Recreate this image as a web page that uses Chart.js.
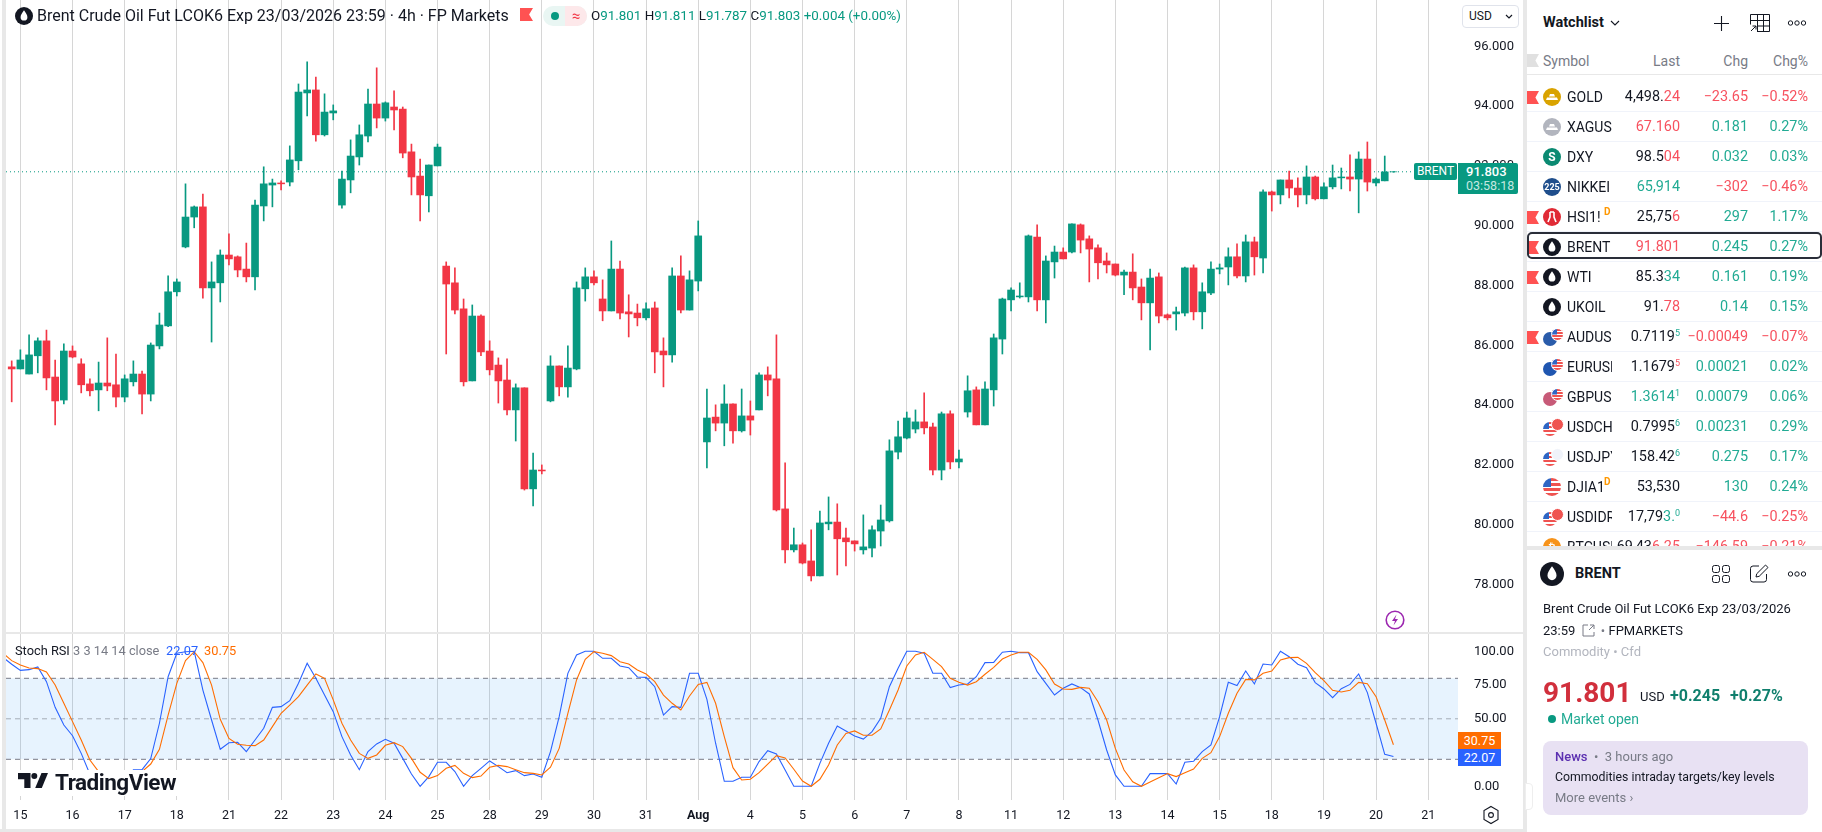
<!DOCTYPE html>
<html><head><meta charset="utf-8"><title>BRENT</title>
<script src="https://cdn.jsdelivr.net/npm/chart.js@4"></script>
<style>
html,body{margin:0;padding:0;background:#fff;width:1822px;height:832px;overflow:hidden;font-family:Roboto,sans-serif;color:#131722}
.a{position:absolute;white-space:nowrap}
#wrap{position:absolute;left:0;top:0;width:1523px;height:829px}
sup{font-size:9px;line-height:0;vertical-align:5px}
</style></head><body>
<div id="wrap"><canvas id="c"></canvas></div>
<div id="ui"></div>
<script>
// ---- chart data ----
const dayLabels=["15","16","17","18","21","22","23","24","25","28","29","30","31","Aug","4","5","6","7","8","11","12","13","14","15","18","19","20","21"];
const priceTicks=[78,80,82,84,86,88,90,92,94,96];
const stochTicks=[0,50,75,100];
const bandLevels=[20,50,80];
const lastPrice=91.803;
const opens=[85.28,85.21,85.04,85.65,86.15,84.94,84.17,85.81,85.38,84.71,84.51,84.74,84.68,84.27,84.78,85.04,84.37,85.98,86.65,87.79,89.29,90.29,90.63,87.92,88.09,89.02,88.96,88.55,88.29,90.66,91.36,91.43,91.46,92.17,94.44,94.54,93.04,93.77,90.69,91.53,92.30,93.00,94.07,93.60,93.97,93.90,92.47,91.66,91.00,92.00,88.65,88.09,87.22,84.81,86.98,85.81,85.34,84.84,83.84,84.58,81.20,81.83,84.14,85.31,84.61,85.21,87.89,88.29,87.55,87.15,88.55,87.12,87.08,86.92,87.25,85.81,85.68,88.32,87.18,88.15,82.77,83.60,83.40,84.04,83.14,83.64,83.84,85.01,84.88,80.53,79.16,79.33,78.79,78.29,80.03,80.09,79.56,79.46,79.16,79.22,79.79,80.13,82.43,82.90,83.20,83.44,83.27,81.83,83.71,82.10,83.77,84.51,83.34,84.51,86.21,87.52,87.62,87.62,89.62,87.52,88.79,89.12,89.12,90.03,89.56,89.26,88.82,88.72,88.35,88.45,87.95,87.42,88.29,87.02,87.05,87.08,88.59,87.12,87.75,88.55,88.62,88.96,88.32,89.46,88.92,91.13,91.03,91.53,91.26,91.03,91.63,90.90,91.30,91.60,91.63,91.56,92.23,91.43,91.50,91.801];
const highs=[85.48,85.85,86.35,86.25,86.51,85.51,86.05,85.98,85.55,84.88,85.44,86.25,85.71,85.01,85.48,85.14,86.08,87.08,88.32,88.22,91.40,90.66,91.06,88.79,89.19,89.73,88.99,89.42,90.86,91.97,91.56,91.50,92.67,94.74,95.48,94.97,94.41,94.04,91.83,92.87,93.37,94.57,95.28,94.14,94.51,93.97,92.73,92.23,92.03,92.73,88.79,88.59,87.55,87.35,87.02,86.15,85.58,85.55,84.71,84.58,82.40,82.00,85.65,85.31,85.98,88.12,88.59,88.49,88.19,89.49,88.82,87.69,87.38,87.42,87.45,86.25,88.59,88.99,88.49,90.16,84.54,84.01,84.68,84.04,84.54,84.14,85.08,85.28,86.35,82.07,79.89,79.39,79.83,80.46,80.93,80.70,79.89,79.46,80.33,79.96,80.66,82.84,83.47,83.77,83.84,84.41,83.40,83.77,83.81,82.50,84.98,84.61,84.78,86.38,87.58,87.92,88.09,89.69,90.03,88.99,89.32,89.26,90.06,90.06,89.66,89.36,89.09,88.72,88.52,89.06,88.22,88.55,88.42,87.05,87.28,88.62,88.69,88.09,88.79,88.72,89.26,89.39,89.69,89.62,91.20,91.16,91.53,91.83,91.60,92.00,91.66,91.43,92.03,91.93,92.37,92.47,92.80,91.60,92.33,91.811];
const lows=[84.11,85.21,85.04,85.08,84.51,83.34,84.04,85.58,84.41,84.31,83.81,84.48,83.94,84.11,84.64,83.71,84.14,85.88,86.62,87.65,89.26,89.93,87.58,86.11,87.45,88.69,88.29,88.12,87.85,90.16,90.63,91.20,91.33,91.87,93.67,92.83,93.00,93.54,90.59,91.10,92.03,92.80,93.27,93.50,93.20,92.27,91.03,90.16,90.46,92.00,85.71,87.05,84.64,84.81,85.65,85.01,84.07,83.67,82.80,81.16,80.63,81.70,84.11,84.31,84.27,85.18,87.48,88.02,86.82,87.15,86.88,86.28,86.65,86.85,85.08,84.61,85.44,87.08,87.18,87.82,81.90,83.14,82.64,82.73,83.10,83.00,83.84,84.31,80.46,78.72,79.09,78.69,78.12,78.29,79.83,78.32,78.62,79.12,79.02,78.92,79.29,80.09,82.20,82.87,83.07,83.04,81.67,81.50,81.87,81.90,83.60,83.34,83.34,83.97,85.71,87.15,87.58,87.45,87.15,86.75,88.25,88.89,89.09,89.09,88.12,88.22,88.42,88.32,87.69,87.52,86.85,85.85,86.75,86.85,86.51,86.98,86.85,86.55,87.69,88.39,88.02,88.25,88.12,88.35,88.42,90.49,90.73,90.93,90.63,90.73,90.86,90.90,91.23,91.23,91.16,90.43,91.16,91.33,91.50,91.787];
const closes=[85.21,85.51,85.68,86.15,84.91,84.14,85.81,85.61,84.68,84.48,84.74,84.64,84.27,84.88,85.04,84.37,86.01,86.68,87.79,88.12,90.29,90.63,87.92,88.12,89.02,88.89,88.52,88.29,90.69,91.40,91.43,91.40,92.20,94.47,94.54,93.04,93.80,93.84,91.56,92.33,93.04,94.07,93.60,94.11,93.87,92.43,91.63,91.03,92.03,92.63,88.05,87.18,84.78,86.98,85.78,85.18,84.81,83.84,84.58,81.20,81.83,81.80,85.31,84.61,85.24,87.92,88.29,88.09,87.15,88.55,87.08,87.05,86.92,87.22,85.78,85.68,88.32,87.18,88.19,89.66,83.57,83.40,84.04,83.14,83.64,83.50,85.01,84.84,80.50,79.16,79.33,78.72,78.29,80.06,80.09,79.53,79.43,79.36,79.26,79.83,80.16,82.47,82.94,83.57,83.44,83.24,81.83,83.71,82.10,82.20,84.48,83.34,84.54,86.25,87.55,87.85,87.65,89.66,87.52,88.82,89.12,88.89,90.06,89.52,89.22,88.76,88.69,88.35,88.45,87.92,87.42,88.25,86.98,86.92,87.12,88.59,87.12,87.79,88.55,88.59,88.96,88.32,89.46,88.96,91.13,91.03,91.53,91.26,91.03,91.63,90.90,91.30,91.60,91.63,91.56,92.23,91.46,91.56,91.80,91.803];
// first entry of both Stoch RSI series belongs to the bar just left of the first visible candle
const stochK=[95.5,90.4,85.9,86.4,88.4,77.5,58.5,45.4,37.5,24.4,8.9,0,0,0,0,12.3,12.3,20.5,46.7,81.2,98.5,99.7,100,71.3,49.1,27.4,32.3,32.6,25.7,34.3,43,58.5,59,63.4,76.3,91.1,80,67.6,55.3,36.8,23.2,12.3,25.7,31.4,34.8,31.9,20.7,9.1,0,7.2,17.8,17.8,10.9,0,7.9,13.3,18.8,14.6,10.1,11.6,7.9,9.1,6.7,25.7,51.6,83.7,97.3,100,100,94.8,94.8,89.1,87.9,81,80.7,73.8,52.8,59,58.5,83.7,83.7,64.4,31.9,3.7,3.7,6.7,6.7,18.3,26.4,24,12.1,0,0,0,17,31.9,44.7,41,37.3,35,40.5,50.4,73.8,87.4,100,100,98.5,83.7,83.7,73.1,75,75.8,81.2,91.6,91.8,99.3,100,99,99,84.9,76.3,67.6,72.6,75.8,73.1,68.4,49.1,26.9,8.4,0,0,0,9.4,9.4,9.4,1.7,17.8,18.5,25.7,30.6,51.6,77,74.6,85.4,75.8,90.6,89.9,100,96,90.4,87.9,76.8,72.1,65.7,72.3,75.5,83.2,69.4,46.7,23.7,22.07];
const stochD=[98.5,93.1,89.9,87.6,87.2,84.7,75,61.5,47.9,34.3,19.5,10.9,4.7,0,0,7.2,10.9,16.5,27.4,52.8,76.3,93.1,99.7,91.6,75,49.6,35.5,31.1,30.4,30.1,34.3,44.2,54.1,60.2,66.4,75,83.2,80,64,46.7,34.3,24.4,20.7,23.2,30.4,32.3,29.4,20.7,10.4,5.7,7.9,13.3,15.5,9.6,6.4,7.6,14.1,15.5,14.6,12.3,10.1,9.6,8.4,14.1,28.1,54.1,78.8,94,99.7,98.5,96.8,92.3,90.6,86.2,83.2,77.5,67.6,61.5,56.5,66.9,75.5,77,61.5,36.8,13.8,4.7,5.2,10.1,16.5,22.7,21,12.6,3.9,0,5.2,15.8,30.6,39.2,41,37.8,37.8,42.5,56.5,71.3,89.1,97.3,99.3,94,88.6,80,77,75,77.5,83,88.1,94.3,97.3,99.3,99.3,94,86.2,75.8,72.1,71.8,73.3,72.6,62.7,49.1,28.1,12.1,3.4,0,3.2,6.4,9.4,7.2,10.1,12.8,20.7,24.9,36.8,54.1,68.9,79.2,78.8,83.7,85.4,93.6,95.3,95.5,91.1,84.2,78.3,71.1,69.9,71.1,77,76,66.4,49.1,30.75];
// ---- watchlist text ----
const watchRows=[
 ["GOLD","#d9a300","bar",1,[["4,498.","k"],["24","r"]],"−23.65","−0.52%",""],
 ["XAGUSD","#b2b5be","bar",0,[["67.160","r"]],"0.181","0.27%",""],
 ["DXY","#0b8a72","S",0,[["98.5","k"],["04","r"]],"0.032","0.03%",""],
 ["NIKKEI","#1f4e8c","225",0,[["65,914","g"]],"−302","−0.46%",""],
 ["HSI1!","#e02b36","hsi",1,[["25,75","k"],["6","r"]],"297","1.17%","D"],
 ["BRENT","#131722","drop",1,[["91.801","r"]],"0.245","0.27%",""],
 ["WTI","#131722","drop",1,[["85.3","k"],["34","g"]],"0.161","0.19%",""],
 ["UKOIL","#131722","drop",0,[["91.","k"],["78","r"]],"0.14","0.15%",""],
 ["AUDUSD","#2a5caa","fx",1,[["0.7119","k"],["5","gs"]],"−0.00049","−0.07%",""],
 ["EURUSD","#1f56b0","fx",0,[["1.1679","k"],["5","rs"]],"0.00021","0.02%",""],
 ["GBPUSD","#c75a78","fx",0,[["1.3614","g"],["1","gs"]],"0.00079","0.06%",""],
 ["USDCHF","#ef5350","usd",0,[["0.7995","k"],["6","gs"]],"0.00231","0.29%",""],
 ["USDJPY","#ef5350","usd",0,[["158.42","k"],["6","gs"]],"0.275","0.17%",""],
 ["DJIA1!","#3d74c9","us",0,[["53,530","k"]],"130","0.24%","D"],
 ["USDIDR","#ef5350","usd",0,[["17,79","k"],["3.","g"],["0","gs"]],"−44.6","−0.25%",""],
 ["BTCUSD","#f7931a","₿",0,[["69,43","k"],["6.25","r"]],"−146.59","−0.21%",""]
];
const UP='#089981',DN='#F23645';
const xMin=-0.656,xMax=166.43;
const idx=closes.map((_,i)=>i);
const upDown=closes.map((c,i)=>c>=opens[i]?UP:DN);
Chart.defaults.font.family='Roboto, sans-serif';
const flat=v=>[{x:xMin,y:v},{x:xMax,y:v}];
const noPad=s=>{s.paddingLeft=s.paddingRight=s.paddingTop=s.paddingBottom=0;};
new Chart(document.getElementById('c'),{
 type:'bar',
 data:{datasets:[
  {type:'bar',label:'Body',yAxisID:'y',xAxisID:'x',order:1,grouped:false,barThickness:7,backgroundColor:upDown,borderWidth:0,borderSkipped:false,data:idx.map(i=>({x:i,y:[opens[i],closes[i]]}))},
  {type:'bar',label:'Wick',yAxisID:'y',xAxisID:'x',order:2,grouped:false,barThickness:1,backgroundColor:upDown,borderWidth:0,borderSkipped:false,data:idx.map(i=>({x:i,y:[lows[i],highs[i]]}))},
  {type:'line',label:'Last',yAxisID:'y',xAxisID:'x',order:3,borderColor:UP,borderWidth:1,borderDash:[1,3],pointRadius:0,data:flat(lastPrice)},
  {type:'line',label:'%D',yAxisID:'s',xAxisID:'x',order:1,borderColor:'#FF6D00',borderWidth:1.1,pointRadius:0,tension:0,data:stochD.map((v,i)=>({x:i-1,y:v}))},
  {type:'line',label:'%K',yAxisID:'s',xAxisID:'x',order:2,borderColor:'#2962FF',borderWidth:1.1,pointRadius:0,tension:0,data:stochK.map((v,i)=>({x:i-1,y:v}))},
  {type:'line',label:'Upper',yAxisID:'s',xAxisID:'x',order:5,borderColor:'#787B86',borderWidth:1,borderDash:[5,4],pointRadius:0,data:flat(bandLevels[2])},
  {type:'line',label:'Middle',yAxisID:'s',xAxisID:'x',order:5,borderColor:'rgba(120,123,134,.6)',borderWidth:1,borderDash:[5,4],pointRadius:0,data:flat(bandLevels[1])},
  {type:'line',label:'Lower',yAxisID:'s',xAxisID:'x',order:5,borderColor:'#787B86',borderWidth:1,borderDash:[5,4],pointRadius:0,data:flat(bandLevels[0])},
  {type:'line',label:'Band',yAxisID:'s',xAxisID:'x',order:6,borderWidth:0,pointRadius:0,fill:{value:bandLevels[0]},backgroundColor:'rgba(33,150,243,.11)',data:flat(bandLevels[2])}
 ]},
 options:{
  responsive:true,maintainAspectRatio:false,animation:false,events:[],
  layout:{padding:{left:6,right:0,top:0,bottom:0}},
  plugins:{legend:{display:false},tooltip:{enabled:false}},
  scales:{
   x:{type:'linear',min:xMin,max:xMax,position:'bottom',offset:false,
      border:{display:false},
      grid:{color:'#d6d6d6',lineWidth:1,drawTicks:false,offset:false},
      afterBuildTicks:s=>{s.ticks=dayLabels.map((_,k)=>({value:1+6*k}));},
      afterFit:s=>{s.height=29;noPad(s);},
      ticks:{autoSkip:false,maxRotation:0,padding:8,color:'#131722',
        font:c=>({size:12.5,weight:c.tick&&dayLabels[(c.tick.value-1)/6]==='Aug'?'700':'400'}),
        callback:v=>dayLabels[(v-1)/6]}},
   y:{type:'linear',position:'right',stack:'panes',stackWeight:633,min:76.38,max:97.548,
      border:{display:false},grid:{display:false},
      afterBuildTicks:s=>{s.ticks=priceTicks.map(v=>({value:v}));},
      afterFit:s=>{s.width=65;noPad(s);},
      ticks:{padding:8,color:'#131722',font:{size:13},callback:v=>v.toFixed(3)}},
   s:{type:'linear',position:'right',stack:'panes',stackWeight:167,min:-10.15,max:113.56,
      border:{display:false},grid:{display:false},
      afterBuildTicks:s=>{s.ticks=stochTicks.map(v=>({value:v}));},
      afterFit:s=>{s.width=65;noPad(s);},
      ticks:{padding:8,color:'#131722',font:{size:13},callback:v=>v.toFixed(2)}}
  }
 }
});
// ---- page furniture ----
const ui=document.getElementById('ui');
const add=(style,html)=>{const d=document.createElement('div');d.className='a';d.style.cssText=style;d.innerHTML=html||'';ui.appendChild(d);return d;};
const drop=(s)=>`<svg width="${s}" height="${s}" viewBox="0 0 18 18" style="display:block"><circle cx="9" cy="9" r="9" fill="#131722"/><path d="M9 3.200C7 6 5.600 7.900 5.600 10.200a3.400 3.400 0 0 0 6.800 0C12.400 7.900 11 6 9 3.200z" fill="#fff"/></svg>`;
const dots=`<svg width="20" height="6" viewBox="0 0 20 6" style="display:block"><circle cx="3.500" cy="3" r="2.200" fill="none" stroke="#131722"/><circle cx="10" cy="3" r="2.200" fill="none" stroke="#131722"/><circle cx="16.500" cy="3" r="2.200" fill="none" stroke="#131722"/></svg>`;
const notch='clip-path:polygon(0 0,100% 0,70% 50%,100% 100%,0 100%)';
const usFlag=(s)=>`background:linear-gradient(to right,#2f66c4 0 45%,transparent 45%) 0 0/100% 50% no-repeat,repeating-linear-gradient(to bottom,#ef5350 0 ${s/7}px,#fff ${s/7}px ${2*s/7}px)`;
// frame
add('left:2px;top:0;width:4px;height:832px;background:#e8e8e8');
add('left:0;top:829px;width:1523px;height:3px;background:#e8e8e8');
add('left:1523px;top:0;width:4px;height:832px;background:#e8e8e8');
add('left:6px;top:632px;width:1517px;height:2px;background:#e8e8e8');
add('left:1527px;top:546px;width:295px;height:4px;background:#e8e8e8');
// header
add('left:15px;top:7px',drop(18));
add('left:37px;top:6px;font-size:16px;line-height:20px','Brent Crude Oil Fut LCOK6 Exp 23/03/2026 23:59 · 4h · FP Markets');
add('left:520px;top:8px;width:13px;height:13px;background:#ff5252;'+notch);
add('left:543px;top:6px;width:44px;height:20px;border-radius:10px;background:#e9f6f3');
add('left:565px;top:6px;width:22px;height:20px;border-radius:0 10px 10px 0;background:#fde8ea;color:#f23645;font-size:15px;line-height:20px;text-align:center','≈');
add('left:551px;top:12px;width:8px;height:8px;border-radius:50%;background:#089981');
const g=s=>`<span style="color:#089981">${s}</span>`;
add('left:591px;top:6px;font-size:13.4px;line-height:20px',`O${g('91.801')} H${g('91.811')} L${g('91.787')} C${g('91.803')} ${g('+0.004 (+0.00%)')}`);
// USD
add('left:1462px;top:5px;width:57px;height:23px;border:1px solid #e0e3eb;border-radius:4px;box-sizing:border-box;background:#fff;font-size:12px;line-height:21px;padding-left:6px','USD<svg style="position:absolute;right:5px;top:8px" width="8" height="5" viewBox="0 0 8 5"><path d="M1 1l3 3 3-3" fill="none" stroke="#131722" stroke-width="1.2"/></svg>');
// price tags
add('left:1414px;top:163px;width:43px;height:17px;background:#089981;border-radius:2px;color:#fff;font-size:12px;line-height:17px;text-align:center','BRENT');
add('left:1458px;top:163px;width:60px;height:31px;background:#089981;border-radius:0 2px 2px 0');
add('left:1466px;top:164px;color:#fff;font-size:13px;line-height:16px;font-weight:500','91.803');
add('left:1466px;top:178px;color:#c5e8e0;font-size:12.5px;line-height:16px','03:58:18');
// stoch legend + tags
add('left:15px;top:643px;font-size:12.8px;line-height:16px','Stoch RSI <span style="color:#787b86">3 3 14 14 close</span>');
add('left:166px;top:643px;font-size:12.8px;line-height:16px;color:#2962FF','22.07');
add('left:204px;top:643px;font-size:12.8px;line-height:16px;color:#FF6D00','30.75');
add('left:1458px;top:732px;width:43px;height:17px;background:#FF6D00;color:#fff;font-size:12.5px;line-height:17px;text-align:center','30.75');
add('left:1458px;top:749px;width:43px;height:17px;background:#2962FF;color:#fff;font-size:12.5px;line-height:17px;text-align:center','22.07');
// logo
add('left:17px;top:770px;width:161px;height:26px;background:#fff');
add('left:18px;top:773px','<svg width="30" height="15" viewBox="0 0 30 15" style="display:block"><path d="M0 0h12.500v15H6.300V6.200H0z" fill="#131722"/><circle cx="16.300" cy="3" r="3" fill="#131722"/><path d="M23.500 0H30l-6.200 15h-6.600z" fill="#131722"/></svg>');
add('left:55px;top:769px;font-size:22.5px;line-height:26px;font-weight:700;letter-spacing:-.5px','TradingView');
// lightning
add('left:1385px;top:610px','<svg width="20" height="20" viewBox="0 0 20 20" style="display:block"><circle cx="10" cy="10" r="8.800" fill="none" stroke="#9c27b0" stroke-width="1.600"/><path d="M11.500 4.500L7 11h3l-1.500 4.500L13 9h-3z" fill="#9c27b0"/></svg>');
// settings hexagon
add('left:1482px;top:805px','<svg width="18" height="20" viewBox="0 0 18 20" style="display:block"><path d="M9 1.500l7 4v9l-7 4-7-4v-9z" fill="none" stroke="#131722" stroke-width="1.100"/><circle cx="9" cy="10" r="2.400" fill="none" stroke="#131722" stroke-width="1.100"/></svg>');
// watchlist head
add('left:1543px;top:13px;font-size:14.5px;line-height:20px;font-weight:700','Watchlist');
add('left:1610px;top:20px','<svg width="10" height="6" viewBox="0 0 10 6" style="display:block"><path d="M1 1l4 4 4-4" fill="none" stroke="#131722" stroke-width="1.100"/></svg>');
add('left:1714px;top:16px','<svg width="15" height="15" viewBox="0 0 15 15" style="display:block"><path d="M7.500 0v15M0 7.500h15" stroke="#131722" stroke-width="1.100"/></svg>');
add('left:1750px;top:14px','<svg width="20" height="18" viewBox="0 0 20 18" style="display:block"><path d="M.5.5h19v17H7M7.500.5v17M13.500.5v17M.5 6.500h19M7.500 12h12M.5.5v10" fill="none" stroke="#131722"/><path d="M1 17l5-5M2.500 12H6v3.500" fill="none" stroke="#131722"/></svg>');
add('left:1787px;top:20px;width:20px;height:6px',dots);
add('left:1527px;top:54px;width:12px;height:13px;background:#e0e0e0;'+notch);
const hd='top:52px;font-size:14px;line-height:18px;color:#787b86;';
add(hd+'left:1543px','Symbol');
add(hd+'right:142px','Last');
add(hd+'right:74px','Chg');
add(hd+'right:14px','Chg%');
add('left:1527px;top:74px;width:295px;height:1px;background:#e8e8e8');
// rows
const cols={k:'#131722',g:'#22ab94',r:'#f7525f'};
const host=add('left:1527px;top:0;width:295px;height:546px;overflow:hidden');
watchRows.forEach((r,i)=>{
  const cy=97+30*i;
  const put=(s,h)=>{const d=document.createElement('div');d.className='a';d.style.cssText=s;d.innerHTML=h||'';host.appendChild(d);};
  const circle=`left:16px;top:${cy-9}px;width:18px;height:18px;border-radius:50%;`;
  if(r[3])put(`left:0;top:${cy-6}px;width:12px;height:13px;background:#ff5252;`+notch);
  if(r[2]==='drop')put(`left:16px;top:${cy-9}px`,drop(18));
  else if(r[2]==='bar')put(circle+`background:${r[1]}`,'<svg width="18" height="18" viewBox="0 0 18 18" style="display:block"><path d="M7 6h4l1 2.500H6zM4 9.500h10l1 2.500H3z" fill="#fff"/></svg>');
  else if(r[2]==='hsi')put(circle+`background:${r[1]}`,'<svg width="18" height="18" viewBox="0 0 18 18" style="display:block"><path d="M7 4v5l-2 5M11 4v5l2 5M7 4h4" fill="none" stroke="#fff" stroke-width="1.600"/></svg>');
  else if(r[2]==='us')put(circle+usFlag(18));
  else if(r[2]==='fx'||r[2]==='usd'){
    if(r[2]==='fx'){put(`left:16px;top:${cy-5}px;width:14px;height:14px;border-radius:50%;background:${r[1]}`);put(`left:24px;top:${cy-9}px;width:11px;height:11px;border-radius:50%;border:1px solid #fff;box-sizing:content-box;`+usFlag(11));}
    else{put(`left:16px;top:${cy-5}px;width:14px;height:14px;border-radius:50%;`+usFlag(14));put(`left:24px;top:${cy-9}px;width:11px;height:11px;border-radius:50%;border:1px solid #fff;background:${r[0]==='USDJPY'?'#f0f3fa':r[1]}`);}
  }
  else put(circle+`background:${r[1]};color:#fff;font-size:${r[2]==='S'?12:9}px;font-weight:700;text-align:center;line-height:18px`,r[2]);
  put(`left:40px;top:${cy-10}px;width:${r[7]?36:45}px;overflow:hidden;font-size:14px;line-height:20px`,r[0]);
  if(r[7])put(`left:77px;top:${cy-10}px;font-size:10px;font-weight:700;line-height:10px;color:#ff9800`,r[7]);
  const lastHtml=r[4].map(p=>p[1].endsWith('s')?`<sup style="color:${cols[p[1][0]]}">${p[0]}</sup>`:`<span style="color:${cols[p[1]]}">${p[0]}</span>`).join('');
  put(`right:142px;top:${cy-10}px;font-size:14.4px;line-height:20px`,lastHtml);
  const col=r[5][0]==='−'?cols.r:cols.g;
  put(`right:74px;top:${cy-10}px;font-size:14.4px;line-height:20px;color:${col}`,r[5]);
  put(`right:14px;top:${cy-10}px;font-size:14.4px;line-height:20px;color:${col}`,r[6]);
  if(i<15)put(`left:0;top:${cy+14}px;width:295px;height:1px;background:#f0f3fa`);
  if(r[0]==='BRENT')put(`left:0;top:${cy-15}px;width:295px;height:27px;border:2px solid #2a2e39;border-radius:5px;box-sizing:border-box`);
});
// detail panel
add('left:1540px;top:562px',drop(24));
add('left:1575px;top:564px;font-size:14.5px;line-height:20px;font-weight:700','BRENT');
add('left:1712px;top:565px','<svg width="18" height="18" viewBox="0 0 18 18" style="display:block"><g fill="none" stroke="#131722"><rect x=".5" y=".5" width="7" height="7" rx="2"/><rect x="10.500" y=".5" width="7" height="7" rx="2"/><rect x=".5" y="10.500" width="7" height="7" rx="2"/><rect x="10.500" y="10.500" width="7" height="7" rx="2"/></g></svg>');
add('left:1750px;top:564px','<svg width="20" height="19" viewBox="0 0 20 19" style="display:block"><g fill="none" stroke="#131722"><path d="M9 2H3a2.500 2.500 0 0 0-2.500 2.500v11A2.500 2.500 0 0 0 3 18h11a2.500 2.500 0 0 0 2.500-2.500V10"/><path d="M6 13l.7-3.200L15.500 1l2.500 2.500-8.800 8.800z"/></g></svg>');
add('left:1787px;top:571px;width:20px;height:6px',dots);
add('left:1543px;top:600px;font-size:13px;line-height:18px','Brent Crude Oil Fut LCOK6 Exp 23/03/2026');
add('left:1543px;top:622px;font-size:13px;line-height:18px','23:59 <svg width="13" height="13" viewBox="0 0 13 13" style="vertical-align:-2px;margin:0 3px"><path d="M6 1H1v11h11V8M7 6l5-5M8 1h4v4" fill="none" stroke="#787b86"/></svg> <span style="color:#787b86">•</span> FPMARKETS');
add('left:1543px;top:643px;font-size:13px;line-height:18px;color:#b2b5be','Commodity • Cfd');
add('left:1543px;top:675px;font-size:28px;line-height:36px;font-weight:700;color:#d12f3c','91.801');
add('left:1640px;top:688px;font-size:13px;line-height:18px','USD');
add('left:1670px;top:686px;font-size:16px;line-height:20px;font-weight:700;color:#0f7f6d','+0.245');
add('left:1730px;top:686px;font-size:16px;line-height:20px;font-weight:700;color:#0f7f6d','+0.27%');
add('left:1548px;top:715px;width:8px;height:8px;border-radius:50%;background:#089981');
add('left:1561px;top:710px;font-size:14px;line-height:18px;color:#22ab94','Market open');
add('left:1543px;top:741px;width:265px;height:74px;border-radius:8px;background:#e8e1f3');
add('left:1555px;top:748px;font-size:13px;line-height:18px;color:#787b86','<span style="color:#5b2fb0;font-weight:500">News</span> &nbsp;•&nbsp; 3 hours ago');
add('left:1555px;top:768px;font-size:12.3px;line-height:18px','Commodities intraday targets/key levels');
add('left:1555px;top:789px;font-size:13px;line-height:18px;color:#787b86','More events ›');
add('left:1525px;top:783px;width:8px;height:27px;border-radius:0 4px 4px 0;background:#fff;border:1px solid #eee;box-sizing:border-box');
</script>
</body></html>
